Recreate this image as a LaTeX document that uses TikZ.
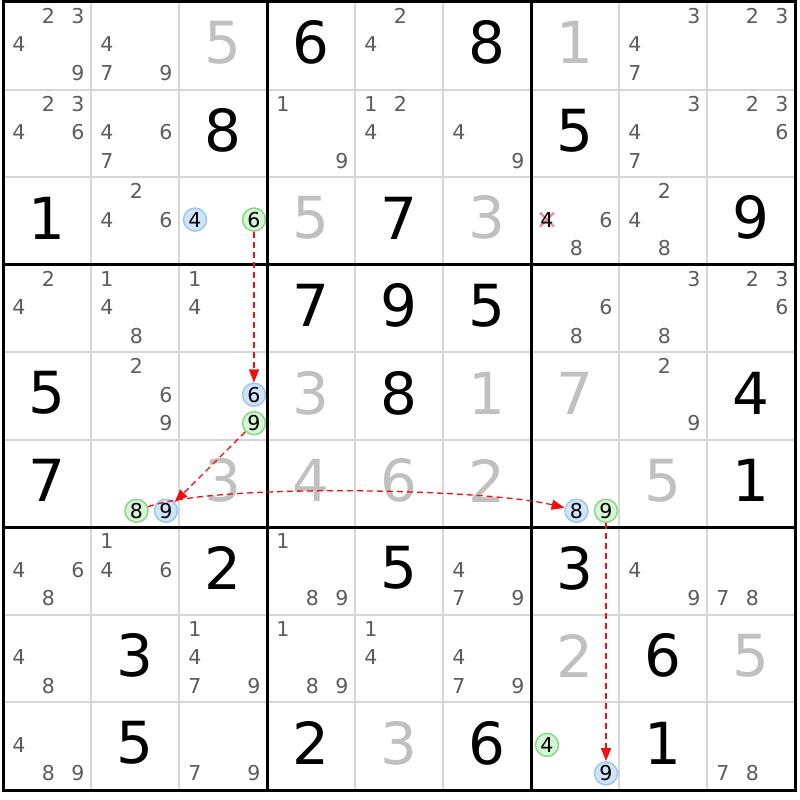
\documentclass[tikz,border=0pt]{standalone}
\usepackage{fontspec}
\setmainfont{DejaVu Sans}
\usetikzlibrary{arrows.meta}
\definecolor{candgrey}{HTML}{5C5C5C}
\definecolor{solvgrey}{HTML}{C0C0C0}
\definecolor{thingrid}{HTML}{D6D6D6}
\definecolor{bluefill}{HTML}{CFE4FB}
\definecolor{bluedraw}{HTML}{9CC8F0}
\definecolor{greenfill}{HTML}{D6F4D6}
\definecolor{greendraw}{HTML}{86DA86}
\definecolor{linkred}{HTML}{F01010}
\definecolor{xpink}{HTML}{F08894}
\newfontfamily\candfont{DejaVu Sans}
\tikzset{
  given/.style={inner sep=0pt,text=black,font=\fontsize{58pt}{58pt}\selectfont},
  solved/.style={inner sep=0pt,text=solvgrey,font=\fontsize{58pt}{58pt}\selectfont},
  cand/.style={inner sep=0pt,text=candgrey,font=\candfont\fontsize{20.5pt}{22pt}\selectfont},
  candblue/.style={circle,inner sep=0pt,minimum size=23pt,draw=bluedraw,fill=bluefill,line width=1.5pt,text=black,font=\candfont\fontsize{20.5pt}{22pt}\selectfont},
  candgreen/.style={circle,inner sep=0pt,minimum size=23pt,draw=greendraw,fill=greenfill,line width=1.5pt,text=black,font=\candfont\fontsize{20.5pt}{22pt}\selectfont},
  thingridline/.style={draw=thingrid,line width=2pt},
  thickgridline/.style={draw=black,line width=3pt},
  link/.style={draw=linkred,line width=1.3pt,dash pattern=on 6pt off 4pt,-{Triangle[length=13pt,width=10pt,fill=linkred]}},
  xmark/.style={draw=xpink,line width=2pt}
}
\newcommand{\givn}[3]{\node[given] (g#1#2) at ({3+88*(#2-0.5)},{2+87.55*(#1-0.5)-3}) {#3};}
\newcommand{\solv}[3]{\node[solved] (g#1#2) at ({3+88*(#2-0.5)},{2+87.55*(#1-0.5)-3}) {#3};}
\newcommand{\cands}[3]{\foreach \k in {#3} {%
  \pgfmathtruncatemacro\mycci{mod(\k-1,3)}%
  \pgfmathtruncatemacro\mycri{div(\k-1,3)}%
  \node[cand] (c#1#2\k) at ({3+88*(#2-1)+16+29.5*\mycci},{2+87.55*(#1-1)+14+28.5*\mycri}) {\k};}}
\newcommand{\candspecial}[4]{%
  \pgfmathtruncatemacro\mycci{mod(#3-1,3)}%
  \pgfmathtruncatemacro\mycri{div(#3-1,3)}%
  \node[#4] (c#1#2#3) at ({3+88*(#2-1)+16+29.5*\mycci},{2+87.55*(#1-1)+14+28.5*\mycri}) {#3};}
\newcommand{\candb}[3]{\candspecial{#1}{#2}{#3}{candblue}}
\newcommand{\candg}[3]{\candspecial{#1}{#2}{#3}{candgreen}}
\begin{document}
\begin{tikzpicture}[x=1pt,y=-1pt]
\useasboundingbox[fill=white] (0,0) rectangle (800,800);
% thin grid
\foreach \i in {1,2,4,5,7,8} {
  \draw[thingridline] ({3+88*\i},2) -- ({3+88*\i},790);
  \draw[thingridline] (3,{2+87.55*\i}) -- (795,{2+87.55*\i});
}
% row 1
\cands{1}{1}{2,3,4,9} \cands{1}{2}{4,7,9} \solv{1}{3}{5} \givn{1}{4}{6} \cands{1}{5}{2,4} \givn{1}{6}{8} \solv{1}{7}{1} \cands{1}{8}{3,4,7} \cands{1}{9}{2,3}
% row 2
\cands{2}{1}{2,3,4,6} \cands{2}{2}{4,6,7} \givn{2}{3}{8} \cands{2}{4}{1,9} \cands{2}{5}{1,2,4} \cands{2}{6}{4,9} \givn{2}{7}{5} \cands{2}{8}{3,4,7} \cands{2}{9}{2,3,6}
% row 3
\givn{3}{1}{1} \cands{3}{2}{2,4,6} \candb{3}{3}{4} \candg{3}{3}{6} \solv{3}{4}{5} \givn{3}{5}{7} \solv{3}{6}{3}
\coordinate (x374) at ({3+88*6+16},{2+87.55*2+42.5});
\draw[xmark] ([shift={(-7,-7)}]x374) -- ([shift={(7,7)}]x374);
\draw[xmark] ([shift={(-7,7)}]x374) -- ([shift={(7,-7)}]x374);
\node[cand,text=black] (c374) at (x374) {4};
\cands{3}{7}{6,8} \cands{3}{8}{2,4,8} \givn{3}{9}{9}
% row 4
\cands{4}{1}{2,4} \cands{4}{2}{1,4,8} \cands{4}{3}{1,4} \givn{4}{4}{7} \givn{4}{5}{9} \givn{4}{6}{5} \cands{4}{7}{6,8} \cands{4}{8}{3,8} \cands{4}{9}{2,3,6}
% row 5
\givn{5}{1}{5} \cands{5}{2}{2,6,9} \candb{5}{3}{6} \candg{5}{3}{9} \solv{5}{4}{3} \givn{5}{5}{8} \solv{5}{6}{1} \solv{5}{7}{7} \cands{5}{8}{2,9} \givn{5}{9}{4}
% row 6
\givn{6}{1}{7} \candg{6}{2}{8} \candb{6}{2}{9} \solv{6}{3}{3} \solv{6}{4}{4} \solv{6}{5}{6} \solv{6}{6}{2} \candb{6}{7}{8} \candg{6}{7}{9} \solv{6}{8}{5} \givn{6}{9}{1}
% row 7
\cands{7}{1}{4,6,8} \cands{7}{2}{1,4,6} \givn{7}{3}{2} \cands{7}{4}{1,8,9} \givn{7}{5}{5} \cands{7}{6}{4,7,9} \givn{7}{7}{3} \cands{7}{8}{4,9} \cands{7}{9}{7,8}
% row 8
\cands{8}{1}{4,8} \givn{8}{2}{3} \cands{8}{3}{1,4,7,9} \cands{8}{4}{1,8,9} \cands{8}{5}{1,4} \cands{8}{6}{4,7,9} \solv{8}{7}{2} \givn{8}{8}{6} \solv{8}{9}{5}
% row 9
\cands{9}{1}{4,8,9} \givn{9}{2}{5} \cands{9}{3}{7,9} \givn{9}{4}{2} \solv{9}{5}{3} \givn{9}{6}{6} \candg{9}{7}{4} \candb{9}{7}{9} \givn{9}{8}{1} \cands{9}{9}{7,8}
% thick grid
\foreach \i in {3,6} {
  \draw[thickgridline] ({3+88*\i},2) -- ({3+88*\i},790);
  \draw[thickgridline] (3,{2+87.55*\i}) -- (795,{2+87.55*\i});
}
\draw[thickgridline] (3,2) rectangle (795,790);
% links
\draw[link] (c336) -- (c536);
\draw[link] (c539) -- (c629);
\draw[link] (c628) .. controls +(80,-28) and +(-90,-22) .. (c678);
\draw[link] (c679) -- (c979);
\end{tikzpicture}
\end{document}
